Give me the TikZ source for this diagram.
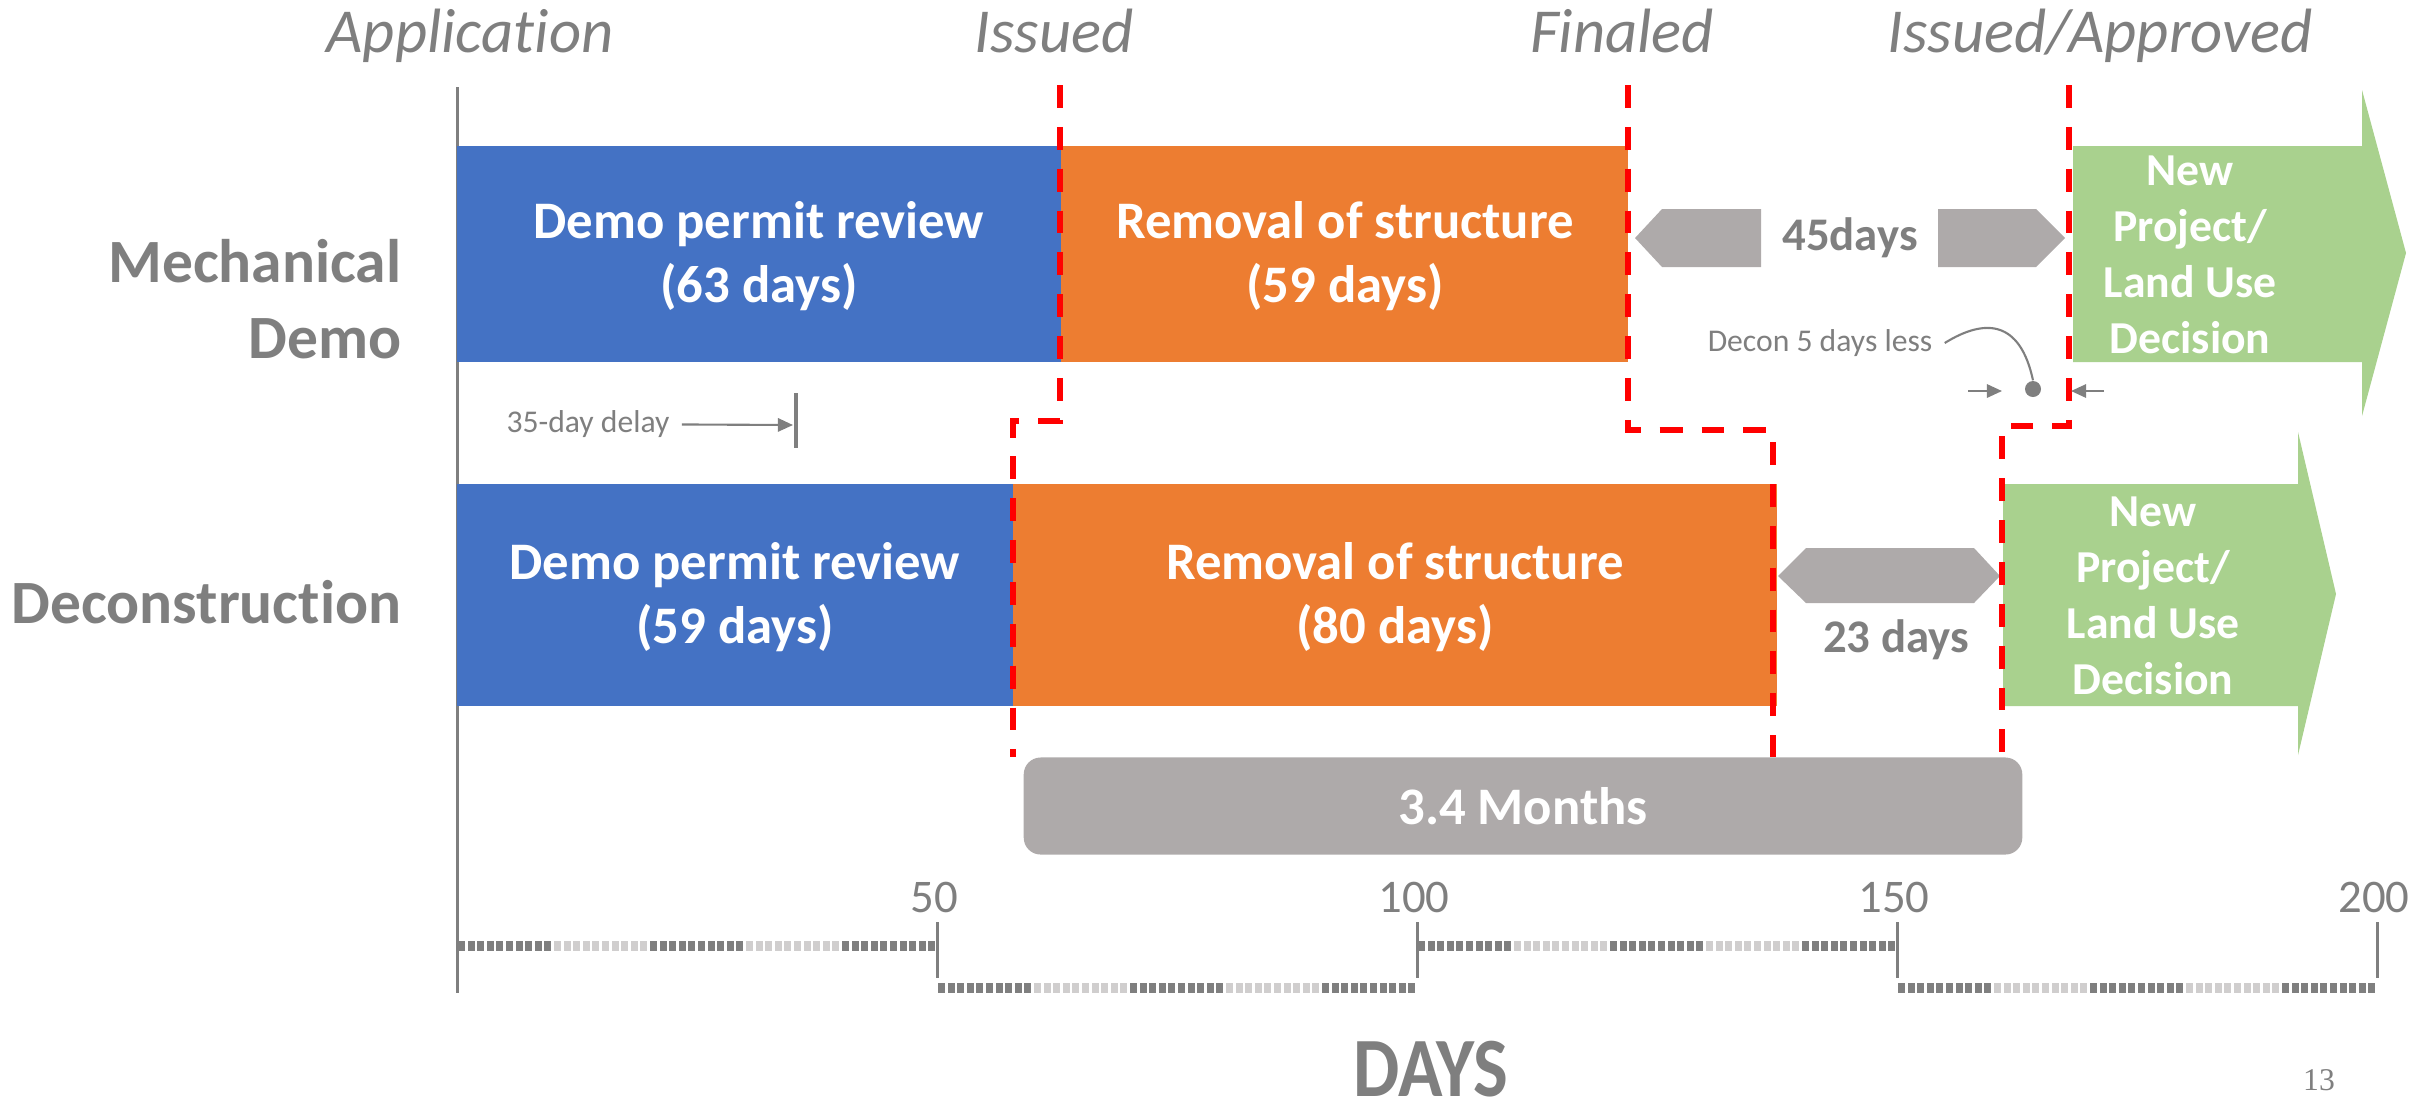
\documentclass[tikz,border=0pt]{standalone}
\usepackage{fontspec}
\setmainfont{Carlito}[Ligatures=NoCommon]
\newfontfamily\pagefont{Liberation Serif}
\usepackage{xcolor}
\usepackage{graphicx}
\usepackage{tikz}
\usetikzlibrary{arrows.meta, positioning, calc}

\definecolor{demoblue}{HTML}{4472C4}
\definecolor{removalorange}{HTML}{ED7D31}
\definecolor{landgreen}{HTML}{A9D18E}
\definecolor{gapgray}{HTML}{AEAAAA}
\definecolor{labelgray}{HTML}{7F7F7F}
\definecolor{rulerlight}{HTML}{D0CECE}

\tikzset{
  milestone/.style={anchor=base, text=labelgray, font=\fontsize{17.8}{21.7}\selectfont\itshape},
  rowlabel/.style={anchor=east, inner sep=0pt, align=right, text=labelgray, font=\fontsize{17.5}{21.4}\selectfont\bfseries},
  bartext/.style={align=center, text=white, font=\fontsize{15}{18.3}\selectfont\bfseries},
  gaptext/.style={text=labelgray, font=\fontsize{13.3}{16.2}\selectfont\bfseries},
  greentext/.style={align=center, text=white, font=\fontsize{13}{15.9}\selectfont\bfseries},
  smallnote/.style={text=labelgray, font=\fontsize{9}{11}\selectfont},
  permitline/.style={red, line width=1.7pt, dash pattern=on 6.5pt off 5.4pt},
  axisline/.style={labelgray, line width=0.85pt},
  notearrow/.style={labelgray, line width=0.6pt, -{Triangle[length=4.3pt,width=3.8pt]}},
  ticklabel/.style={text=labelgray, font=\fontsize{13.3}{16}\selectfont}
}

\begin{document}
\begin{tikzpicture}[x=0.01cm, y=-0.01cm]
    \useasboundingbox (0,0) rectangle (2415,1117);

    % Milestones
    \node[milestone] (application) at (470,52) {Applicat\kern0pt ion};
    \node[milestone] (issued) at (1054,52) {Issued};
    \node[milestone] (finaled) at (1622,52) {Finaled};
    \node[milestone] (approved) at (2100,52) {Issued/Approved};

    % Row labels
    \node[rowlabel] (mechrow) at (402,299) {Mechanical\\Demo};
    \node[rowlabel] (deconrow) at (402,602) {Deconstruct\kern0pt ion};

    % Axis
    \draw[axisline] (457,87) -- (457,993);

    % Mechanical demo bars
    \fill[demoblue] (457,146) rectangle (1061,362);
    \fill[removalorange] (1061,146) rectangle (1628,362);
    \node[bartext] (mdreview) at (759,256) {Demo permit review\\(63 days)};
    \node[bartext] (mdremoval) at (1345,256) {Removal of structure\\(59 days)};

    % Deconstruction bars
    \fill[demoblue] (457,484) rectangle (1013,706);
    \fill[removalorange] (1013,484) rectangle (1777,706);
    \node[bartext] (dcreview) at (735,597) {Demo permit review\\(59 days)};
    \node[bartext] (dcremoval) at (1395,597) {Removal of structure\\(80 days)};

    % Waiting gaps
    \fill[gapgray] (1635,238) -- (1662,209) -- (1761,209) -- (1761,267) -- (1662,267) -- cycle;
    \fill[gapgray] (1938,209) -- (2036,209) -- (2065,238) -- (2036,267) -- (1938,267) -- cycle;
    \node[gaptext] (mdgap) at (1850,238) {45days};
    \fill[gapgray] (1778,576) -- (1806,548) -- (1974,548) -- (2000,576) -- (1974,603) -- (1806,603) -- cycle;
    \node[gaptext] (dcgap) at (1896,640) {23 days};

    % New project arrows
    \fill[landgreen] (2073,146) -- (2362,146) -- (2362,90) -- (2406,253) -- (2362,416) -- (2362,362) -- (2073,362) -- cycle;
    \node[greentext] (mdnew) at (2190,255) {New\\Project/\\Land Use\\Decision};
    \fill[landgreen] (2003,484) -- (2298,484) -- (2298,432) -- (2336,594) -- (2298,755) -- (2298,706) -- (2003,706) -- cycle;
    \node[greentext] (dcnew) at (2153,596) {New\\Project/\\Land Use\\Decision};

    % Permit steps
    \coordinate (iss1) at (1060,85);
    \coordinate (iss2) at (1060,421);
    \coordinate (iss3) at (1013,421);
    \coordinate (iss4) at (1013,757);
    \draw[permitline] (iss1) -- (iss2) -- (iss3) -- (iss4);
    \coordinate (fin1) at (1628,85);
    \coordinate (fin2) at (1628,430);
    \coordinate (fin3) at (1773,430);
    \coordinate (fin4) at (1773,757);
    \draw[permitline] (fin1) -- (fin2) -- (fin3) -- (fin4);
    \coordinate (app1) at (2069,85);
    \coordinate (app2) at (2069,426);
    \coordinate (app3) at (2002,426);
    \coordinate (app4) at (2002,757);
    \draw[permitline] (app1) -- (app2) -- (app3) -- (app4);

    % Delay note
    \node[smallnote] (delaytxt) at (588,424) {35-day delay};
    \coordinate (delaytip) at (793,425);
    \coordinate (delaytop) at (796,393);
    \coordinate (delaybot) at (796,448);
    \draw[notearrow] (delaytxt) -- (delaytip);
    \draw[labelgray, line width=1pt] (delaytop) -- (delaybot);

    % Decon note
    \node[smallnote] (decontxt) at (1820,343) {Decon 5 days less};
    \node[circle, fill=labelgray, inner sep=0pt, minimum size=0.16cm] (decondot) at (2033,389) {};
    \draw[labelgray, line width=0.6pt] (decontxt.east) .. controls (1985,318) and (2020,320) .. (decondot.north);
    \coordinate (squeezeL1) at (1968,391);
    \coordinate (squeezeL2) at (2002,391);
    \coordinate (squeezeR1) at (2104,391);
    \coordinate (squeezeR2) at (2071,391);
    \draw[notearrow] (squeezeL1) -- (squeezeL2);
    \draw[notearrow] (squeezeR1) -- (squeezeR2);

    % Difference
    \node[fill=gapgray, rounded corners=4.8pt, minimum width=9.98cm, minimum height=0.97cm,
          text=white, font=\fontsize{15}{18.3}\selectfont\bfseries] (months) at (1523,806) {3.4 Months};

    % Day scale
    \foreach \s/\yy in {0/946,1/988,2/946,3/988}
      \foreach \g/\col in {0/labelgray,1/rulerlight,2/labelgray,3/rulerlight,4/labelgray}
        \foreach \d in {0,...,9}
          \fill[\col] ({458+9.6*(50*\s+10*\g+\d)},{\yy-5}) rectangle +(7,10);
    \foreach \v/\xx in {50/937,100/1417,150/1897,200/2377} {
      \draw[axisline] (\xx,922) -- (\xx,978);
      \node[ticklabel] (tick\v) at (\xx-3,897) {\v};
    }

    % Footer
    \node[text=labelgray, inner sep=1pt, font=\fontsize{24}{28}\selectfont\bfseries] (daysaxis) at (1431,1069) {\scalebox{0.87}[1]{DAYS}};
    \node[text=labelgray, font=\pagefont\fontsize{9}{11}\selectfont] (pagenum) at (2319,1080) {13};
\end{tikzpicture}
\end{document}
